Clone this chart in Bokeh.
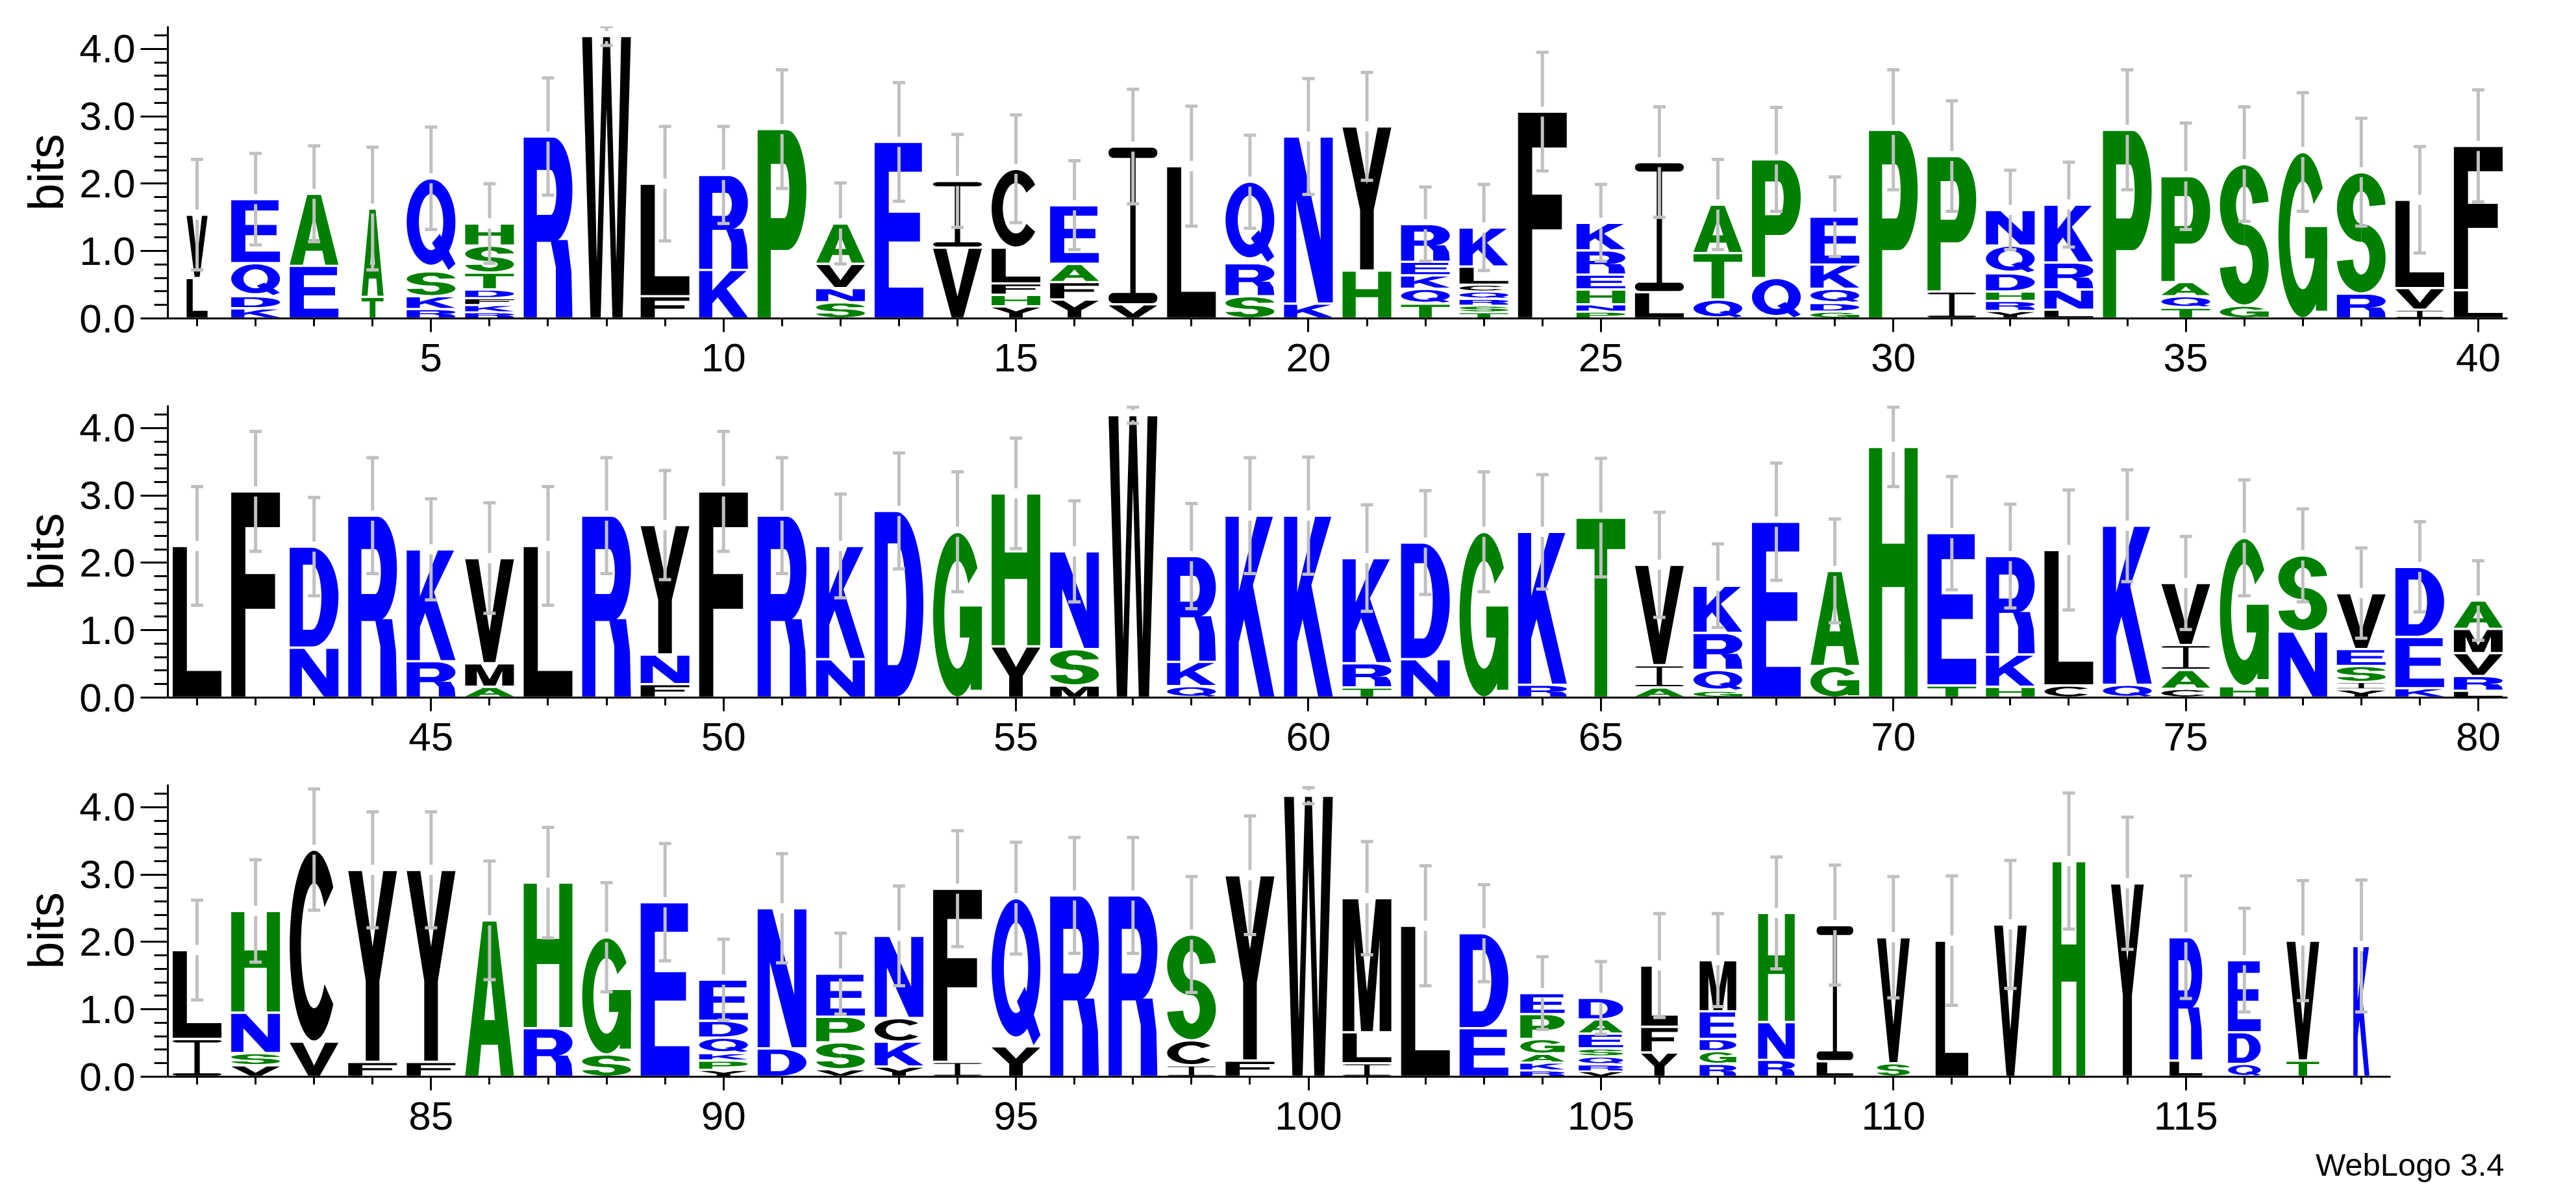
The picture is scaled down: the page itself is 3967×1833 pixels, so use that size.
import numpy as np
from bokeh.plotting import figure
from bokeh.models import ColumnDataSource, Range1d, FixedTicker, PrintfTickFormatter, Title
from bokeh.layouts import column
from bokeh.embed import file_html
from bokeh.resources import INLINE

# ---------------- data ----------------
# letters of each stack, bottom -> top, positions 1..118
stack_letters = [
    "LV", "KDQE", "EA", "TA", "RKSQ", "RKFDTSH", "R", "W", "FL", "KR",
    "P", "SNVA", "E", "VI", "YHFLC", "YFAE", "VI", "L", "SRQ", "KN",
    "HY", "TQKER", "TSRQCLK", "F", "PNHERK", "LI", "QTA", "QP", "GDQKE", "P",
    "IP", "YRHDQN", "LNRK", "P", "TQAP", "GS", "G", "RS", "IVL", "LF",
    "L", "F", "ND", "R", "RK", "AMV", "L", "R", "FNY", "F",
    "R", "NK", "D", "G", "YH", "MSN", "W", "QKR", "K", "K",
    "TRK", "ND", "G", "RK", "T", "AIV", "GQRK", "E", "GA", "H",
    "TE", "HKR", "CL", "QK", "CAIV", "HG", "NS", "YISEV", "KED", "LRVMA",
    "IL", "VSNH", "VC", "FY", "FY", "A", "RH", "SG", "E", "YPKQDE",
    "DN", "VSPE", "YKCN", "IF", "YQ", "R", "R", "ICS", "FY", "W",
    "ILM", "L", "ED", "RKAGPE", "VRQSEAD", "YFL", "RGDEM", "RNH", "LI", "SV",
    "L", "V", "H", "Y", "LR", "QDE", "TV", "K",
]
# bits of each letter, bottom -> top
stack_bits = [
    [0.60, 0.94], [0.15, 0.18, 0.49, 0.95], [0.78, 1.07], [0.32, 1.31], [0.14, 0.19, 0.37, 1.38],
    [0.09, 0.11, 0.10, 0.13, 0.25, 0.40, 0.33], [2.70], [4.19], [0.33, 1.67], [0.72, 1.41],
    [2.81], [0.24, 0.21, 0.36, 0.60], [2.62], [1.05, 0.99], [0.18, 0.17, 0.17, 0.53, 1.17],
    [0.28, 0.26, 0.27, 0.87], [0.21, 2.34], [2.26], [0.33, 0.49, 1.21], [0.22, 2.48],
    [0.71, 2.14], [0.22, 0.22, 0.20, 0.20, 0.56], [0.09, 0.10, 0.10, 0.11, 0.10, 0.27, 0.58], [3.07],
    [0.10, 0.11, 0.22, 0.22, 0.36, 0.41], [0.39, 1.93], [0.28, 0.69, 0.72], [0.60, 1.76],
    [0.10, 0.13, 0.21, 0.36, 0.71], [2.80],
    [0.40, 2.01], [0.11, 0.15, 0.14, 0.27, 0.41, 0.53], [0.13, 0.30, 0.40, 0.86], [2.80],
    [0.16, 0.17, 0.21, 1.57], [0.19, 2.10], [2.47], [0.37, 1.80], [0.13, 0.32, 1.31], [0.42, 2.14],
    [2.25], [3.06], [0.74, 1.50], [2.70], [0.54, 1.66], [0.16, 0.35, 1.56], [2.25], [2.70],
    [0.20, 0.44, 1.92], [3.06],
    [2.70], [0.57, 1.68], [2.77], [2.46], [0.76, 2.27], [0.18, 0.54, 1.45], [4.19],
    [0.17, 0.36, 1.57], [2.70], [2.70],
    [0.15, 0.36, 1.56], [0.57, 1.73], [2.46], [0.19, 2.27], [2.67], [0.15, 0.33, 1.49],
    [0.10, 0.31, 0.55, 0.70], [2.61], [0.47, 1.41], [3.72],
    [0.18, 2.26], [0.16, 0.48, 1.46], [0.18, 2.01], [0.19, 2.36], [0.13, 0.28, 0.37, 0.92],
    [0.17, 2.20], [0.98, 1.13], [0.12, 0.11, 0.24, 0.25, 0.83], [0.14, 0.76, 1.04],
    [0.10, 0.22, 0.34, 0.36, 0.42],
    [0.56, 1.32], [0.17, 0.18, 0.60, 1.51], [0.52, 2.85], [0.22, 2.85], [0.22, 2.85], [2.32],
    [0.72, 2.16], [0.33, 1.74], [2.59], [0.10, 0.14, 0.11, 0.23, 0.25, 0.61],
    [0.42, 2.08], [0.11, 0.40, 0.38, 0.64], [0.15, 0.37, 0.35, 1.22], [0.22, 2.57], [0.45, 2.20],
    [2.69], [2.69], [0.17, 0.37, 1.57], [0.24, 2.75], [4.17],
    [0.20, 0.46, 1.99], [2.24], [0.72, 1.41], [0.09, 0.12, 0.13, 0.22, 0.37, 0.31],
    [0.08, 0.10, 0.12, 0.12, 0.22, 0.21, 0.32], [0.36, 0.38, 0.91], [0.19, 0.19, 0.18, 0.41, 0.76],
    [0.25, 0.56, 1.62], [0.23, 2.02], [0.20, 1.87],
    [2.02], [2.26], [3.20], [2.87], [0.24, 1.83], [0.19, 0.47, 1.07], [0.24, 1.78], [1.94],
]
# upper end of each error bar (bits)
error_upper = [
    2.36, 2.45, 2.56, 2.54, 2.84, 2.00, 3.57, 4.33, 2.85, 2.85,
    3.69, 2.01, 3.50, 2.73, 3.02, 2.34, 3.40, 3.15, 2.72, 3.56,
    3.65, 1.95, 1.99, 3.95, 1.99, 3.14, 2.36, 3.13, 2.10, 3.69,
    3.23, 2.20, 2.32, 3.69, 2.90, 3.14, 3.35, 2.97, 2.55, 3.39,
    3.13, 3.95, 2.97, 3.56, 2.95, 2.89, 3.13, 3.56, 3.37, 3.95,
    3.56, 3.02, 3.63, 3.35, 3.85, 2.92, 4.31, 2.88, 3.56, 3.57,
    2.86, 3.07, 3.35, 3.31, 3.55, 2.75, 2.28, 3.48, 2.65, 4.31,
    3.28, 2.87, 3.08, 3.38, 2.39, 3.23, 2.80, 2.22, 2.61, 2.03,
    2.62, 3.22, 4.27, 3.93, 3.93, 3.20, 3.70, 2.88, 3.46, 2.04,
    3.31, 2.13, 2.83, 3.65, 3.48, 3.55, 3.55, 2.97, 3.87, 4.29,
    3.49, 3.13, 2.85, 1.78, 1.71, 2.42, 2.42, 3.26, 3.14, 2.97,
    2.98, 3.21, 4.21, 3.85, 2.98, 2.50, 2.91, 2.92,
]
# stacks drawn narrower than full width (fraction of full width)
narrow_columns = {1: 0.43, 4: 0.45, 104: 0.91, 105: 0.91, 106: 0.75, 107: 0.75, 108: 0.75,
                  109: 0.75, 110: 0.67, 111: 0.67, 112: 0.67, 113: 0.67, 114: 0.67,
                  115: 0.67, 116: 0.67, 117: 0.67, 118: 0.33}

row_first = [1, 41, 81]
row_last = [40, 80, 118]
row_major_ticks = [[5, 10, 15, 20, 25, 30, 35, 40],
                   [45, 50, 55, 60, 65, 70, 75, 80],
                   [85, 90, 95, 100, 105, 110, 115]]
y_major_ticks = [0, 1, 2, 3, 4]
y_minor_ticks = [0.2, 0.4, 0.6, 0.8, 1.2, 1.4, 1.6, 1.8, 2.2, 2.4, 2.6, 2.8,
                 3.2, 3.4, 3.6, 3.8, 4.2]
credit_text = "WebLogo 3.4"

BLUE, GREEN, BLACK = "#0000ff", "#008000", "#000000"
letter_color = {}
for c in "DEKRNQ":
    letter_color[c] = BLUE
for c in "AGHPST":
    letter_color[c] = GREEN
for c in "CFILMVWY":
    letter_color[c] = BLACK

# ---------------- letter outlines in a unit box ----------------
def arc(cx, cy, rx, ry, a0, a1, n=40):
    t = np.radians(np.linspace(a0, a1, n))
    return [(cx + rx * np.cos(a), cy + ry * np.sin(a)) for a in t]

def sector(cx, cy, rxo, ryo, rxi, ryi, a0, a1, n=48):
    return [arc(cx, cy, rxo, ryo, a0, a1, n) + arc(cx, cy, rxi, ryi, a1, a0, n)]

def ring(cx, cy, rxo, ryo, rxi, ryi, n=72):
    return [arc(cx, cy, rxo, ryo, 0, 360, n)[:-1], arc(cx, cy, rxi, ryi, 360, 0, n)[:-1]]

def rrect(u0, v0, u1, v1, ru, rv, n=8):
    pts = []
    for cx, cy, a0, a1 in [(u1 - ru, v0 + rv, -90, 0), (u1 - ru, v1 - rv, 0, 90),
                           (u0 + ru, v1 - rv, 90, 180), (u0 + ru, v0 + rv, 180, 270)]:
        pts += arc(cx, cy, ru, rv, a0, a1, n)
    return [pts]

def poly(*pts):
    return [list(pts)]

GLYPHS = {
    "A": [[[(0, 0), (0.27, 0), (0.33, 0.2), (0.67, 0.2), (0.73, 0), (1, 0), (0.64, 1), (0.36, 1)],
           [(0.39, 0.36), (0.61, 0.36), (0.5, 0.72)]]],
    "C": [sector(0.5, 0.5, 0.5, 0.5, 0.27, 0.33, 38, 322)],
    "D": [[[(0, 0), (0.45, 0)] + arc(0.45, 0.5, 0.55, 0.5, -90, 90) + [(0, 1)],
           [(0.27, 0.17), (0.45, 0.17)] + arc(0.45, 0.5, 0.2, 0.33, -90, 90) + [(0.27, 0.83)]]],
    "E": [poly((0, 0), (1, 0), (1, 0.17), (0.29, 0.17), (0.29, 0.435), (0.93, 0.435), (0.93, 0.6),
               (0.29, 0.6), (0.29, 0.835), (0.97, 0.835), (0.97, 1), (0, 1))],
    "F": [poly((0, 0), (0.29, 0), (0.29, 0.43), (0.9, 0.43), (0.9, 0.6), (0.29, 0.6), (0.29, 0.83),
               (1, 0.83), (1, 1), (0, 1))],
    "G": [sector(0.5, 0.5, 0.5, 0.5, 0.27, 0.33, 35, 360),
          poly((0.55, 0.36), (1, 0.36), (1, 0.55), (0.55, 0.55)),
          poly((0.77, 0.04), (1, 0.04), (1, 0.45), (0.77, 0.45))],
    "H": [poly((0, 0), (0.27, 0), (0.27, 0.44), (0.73, 0.44), (0.73, 0), (1, 0), (1, 1), (0.73, 1),
               (0.73, 0.615), (0.27, 0.615), (0.27, 1), (0, 1))],
    "I": [rrect(0, 0, 1, 0.065, 0.1, 0.03), rrect(0, 0.935, 1, 1, 0.1, 0.03),
          poly((0.445, 0.03), (0.555, 0.03), (0.555, 0.97), (0.445, 0.97))],
    "K": [poly((0, 0), (0.27, 0), (0.27, 0.3), (0.38, 0.43), (0.7, 0), (1, 0), (0.56, 0.62),
               (0.97, 1), (0.64, 1), (0.27, 0.58), (0.27, 1), (0, 1))],
    "L": [poly((0, 0), (1, 0), (1, 0.17), (0.29, 0.17), (0.29, 1), (0, 1))],
    "M": [poly((0, 0), (0.24, 0), (0.24, 0.7), (0.38, 0), (0.62, 0), (0.76, 0.7), (0.76, 0), (1, 0),
               (1, 1), (0.68, 1), (0.5, 0.3), (0.32, 1), (0, 1))],
    "N": [poly((0, 0), (0.25, 0), (0.25, 0.62), (0.7, 0), (1, 0), (1, 1), (0.75, 1), (0.75, 0.38),
               (0.3, 1), (0, 1))],
    "P": [[[(0, 0), (0.27, 0), (0.27, 0.36), (0.6, 0.36)] + arc(0.6, 0.68, 0.4, 0.32, -90, 90) + [(0, 1)],
           [(0.27, 0.53), (0.55, 0.53)] + arc(0.55, 0.675, 0.1, 0.145, -90, 90) + [(0.27, 0.82)]]],
    "Q": [ring(0.5, 0.53, 0.5, 0.47, 0.25, 0.31),
          poly((0.52, 0.3), (0.68, 0.4), (1.0, 0.07), (0.86, 0.0))],
    "R": [[[(0, 0), (0.27, 0), (0.27, 0.42), (0.6, 0.42)] + arc(0.6, 0.71, 0.4, 0.29, -90, 90) + [(0, 1)],
           [(0.27, 0.57), (0.55, 0.57)] + arc(0.55, 0.695, 0.12, 0.125, -90, 90) + [(0.27, 0.82)]],
          poly((0.66, 0), (1.0, 0), (0.98, 0.25), (0.9, 0.43), (0.55, 0.43), (0.66, 0.28))],
    "S": [sector(0.5, 0.7125, 0.5, 0.2875, 0.17, 0.1375, 5, 270),
          sector(0.5, 0.2875, 0.5, 0.2875, 0.17, 0.1375, -175, 90)],
    "T": [poly((0.37, 0), (0.63, 0), (0.63, 0.83), (1, 0.83), (1, 1), (0, 1), (0, 0.83), (0.37, 0.83))],
    "V": [poly((0, 1), (0.27, 1), (0.5, 0.3), (0.73, 1), (1, 1), (0.62, 0), (0.38, 0))],
    "W": [poly((0, 1), (0.2, 1), (0.3, 0.2), (0.43, 1), (0.57, 1), (0.7, 0.2), (0.8, 1), (1, 1),
               (0.83, 0), (0.62, 0), (0.5, 0.75), (0.38, 0), (0.17, 0))],
    "Y": [poly((0, 1), (0.28, 1), (0.5, 0.6), (0.72, 1), (1, 1), (0.64, 0.42), (0.64, 0), (0.36, 0),
               (0.36, 0.42))],
}

FULL_W = 0.833   # letter width in position units
FONT = "Liberation Sans"
rows = [  # x range, frame width, border top, border bottom, border right
    (0.5, 40.5, 3603, 40, 108, 60),
    (40.5, 80.5, 3603, 26, 108, 60),
    (80.5, 118.5, 3423, 26, 150, 240),
]

figs = []
for r, (lo, hi, fw, bt, bb, br) in enumerate(rows):
    p = figure(frame_width=fw, frame_height=450, x_range=Range1d(lo, hi),
               y_range=Range1d(0, 4.335), output_backend="svg", toolbar_location=None,
               min_border_left=258, min_border_top=bt, min_border_bottom=bb,
               min_border_right=br)
    p.outline_line_color = None
    p.xgrid.visible = False
    p.ygrid.visible = False

    xs, ys, cols = [], [], []
    bx0, by0, bx1, by1 = [], [], [], []
    for pos in range(row_first[r], row_last[r] + 1):
        i = pos - 1
        w = FULL_W * narrow_columns.get(pos, 1.0)
        cum = 0.0
        for letter, h in zip(stack_letters[i], stack_bits[i]):
            g = min(0.035, 0.3 * h)
            b0 = cum + g / 2
            b1 = cum + h - g / 2
            for piece in GLYPHS[letter]:
                xs.append([[[pos + (u - 0.5) * w for u, v in rg] for rg in piece]])
                ys.append([[[b0 + v * (b1 - b0) for u, v in rg] for rg in piece]])
                cols.append(letter_color[letter])
            cum += h
        top = cum
        err = error_upper[i] - top
        gap = 0.075
        for a, b in [(top - err, top - gap), (top + gap, top + err)]:
            bx0.append(pos); bx1.append(pos); by0.append(a); by1.append(b)
        for yy in [top - err, top + err]:
            bx0.append(pos - 0.105); bx1.append(pos + 0.105); by0.append(yy); by1.append(yy)

    p.multi_polygons(xs="xs", ys="ys", fill_color="color", line_color=None,
                     source=ColumnDataSource(dict(xs=xs, ys=ys, color=cols)))
    p.segment(x0=bx0, y0=by0, x1=bx1, y1=by1, line_color="#c0c0c0", line_width=5)

    xa = p.xaxis[0]
    xa.ticker = FixedTicker(ticks=row_major_ticks[r],
                            minor_ticks=list(range(row_first[r], row_last[r] + 1)))
    xa.major_tick_out = 21
    xa.major_tick_in = 0
    xa.minor_tick_out = 12
    xa.minor_tick_in = 0
    xa.axis_line_width = 3
    xa.major_tick_line_width = 3
    xa.minor_tick_line_width = 3
    xa.major_label_text_font = FONT
    xa.major_label_text_font_size = "62px"
    xa.major_label_text_color = "black"
    xa.major_label_standoff = 18

    ya = p.yaxis[0]
    ya.ticker = FixedTicker(ticks=y_major_ticks, minor_ticks=y_minor_ticks)
    ya.formatter = PrintfTickFormatter(format="%.1f")
    ya.major_tick_out = 42
    ya.major_tick_in = 0
    ya.minor_tick_out = 21
    ya.minor_tick_in = 0
    ya.axis_line_width = 3
    ya.major_tick_line_width = 3
    ya.minor_tick_line_width = 3
    ya.major_label_text_font = FONT
    ya.major_label_text_font_size = "62px"
    ya.major_label_text_color = "black"
    ya.major_label_standoff = 8
    ya.axis_label = "bits"
    ya.axis_label_text_font = FONT
    ya.axis_label_text_font_size = "76px"
    ya.axis_label_text_font_style = "normal"
    ya.axis_label_text_color = "black"
    ya.axis_label_standoff = 6

    if r == 2:
        p.add_layout(Title(text=credit_text, align="right", offset=-175, standoff=48,
                           vertical_align="top", text_font=FONT, text_font_size="49px",
                           text_font_style="normal", text_color="black"), "below")
    figs.append(p)

layout = column(*figs)
open("out.html", "w").write(file_html(layout, INLINE))
